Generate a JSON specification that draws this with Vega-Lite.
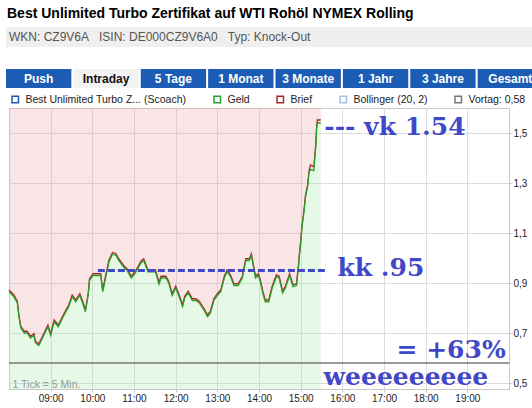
{
  "$schema": "https://vega.github.io/schema/vega-lite/v6.json",
  "padding": {"left": 5, "top": 0, "right": 0, "bottom": 0},
  "spacing": 0,
  "bounds": "flush",
  "config": {
    "view": {"stroke": null},
    "font": "Liberation Sans",
    "locale": {
      "number": {"decimal": ",", "thousands": ".", "grouping": [3], "currency": ["", " €"]}
    }
  },
  "vconcat": [
    {
      "width": 527,
      "height": 27,
      "data": {"values": [{"zeile": "Best Unlimited Turbo Zertifikat auf WTI Rohöl NYMEX Rolling"}]},
      "mark": {
        "type": "text", "align": "left", "baseline": "middle", "dx": 1,
        "font": "Liberation Sans", "fontSize": 14, "fontWeight": "bold", "color": "#000000"
      },
      "encoding": {
        "x": {
          "field": "zeile", "type": "nominal", "axis": null, "bandPosition": 0,
          "scale": {"type": "band", "paddingInner": 0, "paddingOuter": 0}
        },
        "text": {"field": "zeile"}
      }
    },
    {
      "width": 527,
      "height": 20,
      "view": {"stroke": null, "fill": "#efefef"},
      "data": {"values": [{"zeile": "WKN: CZ9V6A\u00a0\u00a0\u00a0ISIN: DE000CZ9V6A0\u00a0\u00a0\u00a0Typ: Knock-Out"}]},
      "mark": {
        "type": "text", "align": "left", "baseline": "middle", "dx": 3,
        "font": "Liberation Sans", "fontSize": 12, "color": "#555555"
      },
      "encoding": {
        "x": {
          "field": "zeile", "type": "nominal", "axis": null, "bandPosition": 0,
          "scale": {"type": "band", "paddingInner": 0, "paddingOuter": 0}
        },
        "text": {"field": "zeile"}
      }
    },
    {
      "width": 527,
      "height": 22,
      "data": {"values": [{"leer": ""}]},
      "mark": {"type": "text"},
      "encoding": {"text": {"field": "leer"}}
    },
    {
      "width": 527,
      "height": 19,
      "data": {"values": [
        {"tab": "Push", "aktiv": false},
        {"tab": "Intraday", "aktiv": true},
        {"tab": "5 Tage", "aktiv": false},
        {"tab": "1 Monat", "aktiv": false},
        {"tab": "3 Monate", "aktiv": false},
        {"tab": "1 Jahr", "aktiv": false},
        {"tab": "3 Jahre", "aktiv": false},
        {"tab": "Gesamt", "aktiv": false}
      ]},
      "layer": [
        {
          "mark": {"type": "bar", "clip": true},
          "encoding": {
            "x": {
              "field": "tab", "type": "nominal", "sort": null, "axis": null,
              "scale": {"range": [0, 537], "paddingInner": 0.03, "paddingOuter": 0}
            },
            "color": {"condition": {"test": "datum.aktiv", "value": "#f3f3f3"}, "value": "#1d5cb5"}
          }
        },
        {
          "mark": {"type": "text", "clip": true, "font": "Liberation Sans", "fontWeight": "bold", "fontSize": 12},
          "encoding": {
            "x": {"field": "tab", "type": "nominal", "sort": null},
            "text": {"field": "tab"},
            "color": {"condition": {"test": "datum.aktiv", "value": "#111111"}, "value": "#ffffff"}
          }
        }
      ]
    },
    {
      "width": 527,
      "height": 20,
      "data": {"values": [{"leer": ""}]},
      "mark": {"type": "text"},
      "encoding": {"text": {"field": "leer"}}
    },
    {
      "spacing": 0,
      "bounds": "flush",
      "hconcat": [
        {
          "width": 3,
          "height": 281,
          "data": {"values": [{"leer": ""}]},
          "mark": {"type": "text"},
          "encoding": {"text": {"field": "leer"}}
        },
        {
          "width": 500,
          "height": 281,
          "view": {"stroke": "#c8c8c8"},
          "data": {
            "values": [
              {"t": "2024-06-03T08:00", "Geld": 0.865, "Brief": 0.872},
              {"t": "2024-06-03T08:07", "Geld": 0.845, "Brief": 0.852},
              {"t": "2024-06-03T08:12", "Geld": 0.82, "Brief": 0.827},
              {"t": "2024-06-03T08:14", "Geld": 0.77, "Brief": 0.777},
              {"t": "2024-06-03T08:17", "Geld": 0.72, "Brief": 0.727},
              {"t": "2024-06-03T08:22", "Geld": 0.70, "Brief": 0.707},
              {"t": "2024-06-03T08:26", "Geld": 0.70, "Brief": 0.707},
              {"t": "2024-06-03T08:31", "Geld": 0.68, "Brief": 0.687},
              {"t": "2024-06-03T08:36", "Geld": 0.69, "Brief": 0.697},
              {"t": "2024-06-03T08:38", "Geld": 0.66, "Brief": 0.667},
              {"t": "2024-06-03T08:43", "Geld": 0.65, "Brief": 0.657},
              {"t": "2024-06-03T08:50", "Geld": 0.69, "Brief": 0.697},
              {"t": "2024-06-03T08:56", "Geld": 0.725, "Brief": 0.732},
              {"t": "2024-06-03T09:00", "Geld": 0.69, "Brief": 0.697},
              {"t": "2024-06-03T09:05", "Geld": 0.745, "Brief": 0.752},
              {"t": "2024-06-03T09:11", "Geld": 0.725, "Brief": 0.732},
              {"t": "2024-06-03T09:19", "Geld": 0.77, "Brief": 0.777},
              {"t": "2024-06-03T09:26", "Geld": 0.805, "Brief": 0.812},
              {"t": "2024-06-03T09:31", "Geld": 0.845, "Brief": 0.852},
              {"t": "2024-06-03T09:36", "Geld": 0.825, "Brief": 0.832},
              {"t": "2024-06-03T09:42", "Geld": 0.85, "Brief": 0.857},
              {"t": "2024-06-03T09:46", "Geld": 0.82, "Brief": 0.827},
              {"t": "2024-06-03T09:50", "Geld": 0.785, "Brief": 0.792},
              {"t": "2024-06-03T09:54", "Geld": 0.85, "Brief": 0.857},
              {"t": "2024-06-03T09:56", "Geld": 0.91, "Brief": 0.917},
              {"t": "2024-06-03T10:01", "Geld": 0.93, "Brief": 0.937},
              {"t": "2024-06-03T10:12", "Geld": 0.93, "Brief": 0.937},
              {"t": "2024-06-03T10:15", "Geld": 0.865, "Brief": 0.872},
              {"t": "2024-06-03T10:19", "Geld": 0.92, "Brief": 0.927},
              {"t": "2024-06-03T10:24", "Geld": 0.985, "Brief": 0.992},
              {"t": "2024-06-03T10:29", "Geld": 1.015, "Brief": 1.022},
              {"t": "2024-06-03T10:34", "Geld": 1.01, "Brief": 1.017},
              {"t": "2024-06-03T10:38", "Geld": 0.99, "Brief": 0.997},
              {"t": "2024-06-03T10:46", "Geld": 0.96, "Brief": 0.967},
              {"t": "2024-06-03T10:50", "Geld": 0.95, "Brief": 0.957},
              {"t": "2024-06-03T10:56", "Geld": 0.92, "Brief": 0.927},
              {"t": "2024-06-03T11:02", "Geld": 0.94, "Brief": 0.947},
              {"t": "2024-06-03T11:10", "Geld": 0.98, "Brief": 0.987},
              {"t": "2024-06-03T11:14", "Geld": 0.99, "Brief": 0.997},
              {"t": "2024-06-03T11:20", "Geld": 0.945, "Brief": 0.952},
              {"t": "2024-06-03T11:31", "Geld": 0.945, "Brief": 0.952},
              {"t": "2024-06-03T11:36", "Geld": 0.895, "Brief": 0.902},
              {"t": "2024-06-03T11:39", "Geld": 0.92, "Brief": 0.927},
              {"t": "2024-06-03T11:46", "Geld": 0.92, "Brief": 0.927},
              {"t": "2024-06-03T11:50", "Geld": 0.90, "Brief": 0.907},
              {"t": "2024-06-03T11:55", "Geld": 0.85, "Brief": 0.857},
              {"t": "2024-06-03T12:00", "Geld": 0.88, "Brief": 0.887},
              {"t": "2024-06-03T12:05", "Geld": 0.845, "Brief": 0.852},
              {"t": "2024-06-03T12:10", "Geld": 0.805, "Brief": 0.812},
              {"t": "2024-06-03T12:13", "Geld": 0.84, "Brief": 0.847},
              {"t": "2024-06-03T12:18", "Geld": 0.86, "Brief": 0.867},
              {"t": "2024-06-03T12:24", "Geld": 0.83, "Brief": 0.837},
              {"t": "2024-06-03T12:29", "Geld": 0.83, "Brief": 0.837},
              {"t": "2024-06-03T12:34", "Geld": 0.82, "Brief": 0.827},
              {"t": "2024-06-03T12:41", "Geld": 0.79, "Brief": 0.797},
              {"t": "2024-06-03T12:46", "Geld": 0.765, "Brief": 0.772},
              {"t": "2024-06-03T12:50", "Geld": 0.78, "Brief": 0.787},
              {"t": "2024-06-03T12:55", "Geld": 0.83, "Brief": 0.837},
              {"t": "2024-06-03T13:00", "Geld": 0.85, "Brief": 0.857},
              {"t": "2024-06-03T13:05", "Geld": 0.865, "Brief": 0.872},
              {"t": "2024-06-03T13:10", "Geld": 0.92, "Brief": 0.927},
              {"t": "2024-06-03T13:14", "Geld": 0.945, "Brief": 0.952},
              {"t": "2024-06-03T13:19", "Geld": 0.925, "Brief": 0.932},
              {"t": "2024-06-03T13:24", "Geld": 0.89, "Brief": 0.897},
              {"t": "2024-06-03T13:30", "Geld": 0.89, "Brief": 0.897},
              {"t": "2024-06-03T13:36", "Geld": 0.92, "Brief": 0.927},
              {"t": "2024-06-03T13:41", "Geld": 0.99, "Brief": 0.997},
              {"t": "2024-06-03T13:46", "Geld": 0.99, "Brief": 0.997},
              {"t": "2024-06-03T13:49", "Geld": 1.01, "Brief": 1.017},
              {"t": "2024-06-03T13:53", "Geld": 0.95, "Brief": 0.957},
              {"t": "2024-06-03T13:55", "Geld": 0.92, "Brief": 0.927},
              {"t": "2024-06-03T13:59", "Geld": 0.93, "Brief": 0.937},
              {"t": "2024-06-03T14:02", "Geld": 0.905, "Brief": 0.912},
              {"t": "2024-06-03T14:05", "Geld": 0.865, "Brief": 0.872},
              {"t": "2024-06-03T14:09", "Geld": 0.825, "Brief": 0.832},
              {"t": "2024-06-03T14:14", "Geld": 0.825, "Brief": 0.832},
              {"t": "2024-06-03T14:19", "Geld": 0.88, "Brief": 0.887},
              {"t": "2024-06-03T14:25", "Geld": 0.925, "Brief": 0.932},
              {"t": "2024-06-03T14:29", "Geld": 0.92, "Brief": 0.927},
              {"t": "2024-06-03T14:34", "Geld": 0.86, "Brief": 0.867},
              {"t": "2024-06-03T14:38", "Geld": 0.88, "Brief": 0.887},
              {"t": "2024-06-03T14:44", "Geld": 0.93, "Brief": 0.937},
              {"t": "2024-06-03T14:49", "Geld": 0.885, "Brief": 0.892},
              {"t": "2024-06-03T14:54", "Geld": 0.89, "Brief": 0.897},
              {"t": "2024-06-03T14:57", "Geld": 0.97, "Brief": 0.977},
              {"t": "2024-06-03T14:58", "Geld": 1.005, "Brief": 1.012},
              {"t": "2024-06-03T15:00", "Geld": 1.06, "Brief": 1.067},
              {"t": "2024-06-03T15:02", "Geld": 1.125, "Brief": 1.132},
              {"t": "2024-06-03T15:05", "Geld": 1.19, "Brief": 1.197},
              {"t": "2024-06-03T15:07", "Geld": 1.245, "Brief": 1.252},
              {"t": "2024-06-03T15:10", "Geld": 1.285, "Brief": 1.292},
              {"t": "2024-06-03T15:12", "Geld": 1.34, "Brief": 1.347},
              {"t": "2024-06-03T15:14", "Geld": 1.355, "Brief": 1.372},
              {"t": "2024-06-03T15:19", "Geld": 1.35, "Brief": 1.365},
              {"t": "2024-06-03T15:20", "Geld": 1.39, "Brief": 1.397},
              {"t": "2024-06-03T15:22", "Geld": 1.455, "Brief": 1.462},
              {"t": "2024-06-03T15:23", "Geld": 1.52, "Brief": 1.527},
              {"t": "2024-06-03T15:24", "Geld": 1.54, "Brief": 1.552},
              {"t": "2024-06-03T15:29", "Geld": 1.54, "Brief": 1.552}
            ]
          },
          "layer": [
            {
              "mark": {"type": "area", "color": "#ebaaaa", "opacity": 0.3},
              "encoding": {
                "x": {
                  "field": "t", "type": "temporal",
                  "scale": {
                    "domain": [
                      {"year": 2024, "month": 6, "date": 3, "hours": 8},
                      {"year": 2024, "month": 6, "date": 3, "hours": 20}
                    ],
                    "nice": false
                  },
                  "axis": {
                    "title": null,
                    "format": "%H:%M",
                    "values": [
                      {"year": 2024, "month": 6, "date": 3, "hours": 9},
                      {"year": 2024, "month": 6, "date": 3, "hours": 10},
                      {"year": 2024, "month": 6, "date": 3, "hours": 11},
                      {"year": 2024, "month": 6, "date": 3, "hours": 12},
                      {"year": 2024, "month": 6, "date": 3, "hours": 13},
                      {"year": 2024, "month": 6, "date": 3, "hours": 14},
                      {"year": 2024, "month": 6, "date": 3, "hours": 15},
                      {"year": 2024, "month": 6, "date": 3, "hours": 16},
                      {"year": 2024, "month": 6, "date": 3, "hours": 17},
                      {"year": 2024, "month": 6, "date": 3, "hours": 18},
                      {"year": 2024, "month": 6, "date": 3, "hours": 19}
                    ],
                    "gridColor": "#dcdcdc",
                    "domainColor": "#c8c8c8",
                    "tickColor": "#c8c8c8",
                    "tickSize": 3,
                    "labelPadding": 1,
                    "labelFontSize": 10,
                    "labelColor": "#222222",
                    "labelOverlap": false,
                    "labelFlush": false
                  }
                },
                "y": {
                  "field": "Geld", "type": "quantitative",
                  "scale": {"domain": [0.476, 1.6], "nice": false, "zero": false},
                  "axis": {
                    "title": null,
                    "orient": "right",
                    "values": [0.5, 0.6, 0.7, 0.8, 0.9, 1.0, 1.1, 1.2, 1.3, 1.4, 1.5],
                    "format": ".1f",
                    "gridColor": "#dcdcdc",
                    "domainColor": "#c8c8c8",
                    "tickColor": "#c8c8c8",
                    "tickSize": 3,
                    "labelPadding": 1,
                    "labelFontSize": 10,
                    "labelColor": "#222222",
                    "labelOverlap": false
                  }
                },
                "y2": {"datum": 1.6}
              }
            },
            {
              "mark": {"type": "area", "color": "#ace8ac", "opacity": 0.3},
              "encoding": {
                "x": {"field": "t", "type": "temporal"},
                "y": {"field": "Geld", "type": "quantitative"},
                "y2": {"datum": 0.476}
              }
            },
            {
              "data": {"values": [{"vortag": 0.58}]},
              "mark": {"type": "rule", "strokeWidth": 1.3},
              "encoding": {
                "y": {"field": "vortag", "type": "quantitative"},
                "color": {"datum": "Vortag: 0,58", "type": "nominal"}
              }
            },
            {
              "transform": [{"fold": ["Brief", "Geld"], "as": ["reihe", "kurs"]}],
              "mark": {"type": "line", "strokeWidth": 1.3},
              "encoding": {
                "x": {"field": "t", "type": "temporal"},
                "y": {"field": "kurs", "type": "quantitative"},
                "color": {
                  "field": "reihe", "type": "nominal",
                  "scale": {
                    "domain": ["Best Unlimited Turbo Z... (Scoach)", "Geld", "Brief", "Bollinger (20, 2)", "Vortag: 0,58"],
                    "range": ["#1f55b3", "#2a9f2a", "#ab2626", "#a8bfe6", "#777777"]
                  },
                  "legend": {
                    "title": null,
                    "orient": "none",
                    "legendX": 4,
                    "legendY": 94,
                    "direction": "horizontal",
                    "symbolType": "square",
                    "symbolSize": 42,
                    "symbolStrokeWidth": 1.5,
                    "labelFontSize": 10.5,
                    "labelColor": "#222222",
                    "labelLimit": 300,
                    "labelOffset": 5,
                    "columnPadding": 24,
                    "padding": 0
                  }
                }
              }
            },
            {
              "data": {"values": [
                {"t": "2024-06-03T10:08", "kk": 0.95},
                {"t": "2024-06-03T15:37", "kk": 0.95}
              ]},
              "mark": {"type": "line", "color": "#4048c8", "strokeWidth": 3, "strokeDash": [7, 3]},
              "encoding": {
                "x": {"field": "t", "type": "temporal"},
                "y": {"field": "kk", "type": "quantitative"}
              }
            },
            {
              "data": {"values": [
                {"t": "2024-06-03T15:34", "v": 1.524, "text": "--- vk 1.54"},
                {"t": "2024-06-03T15:53", "v": 0.961, "text": "kk .95"},
                {"t": "2024-06-03T17:18", "v": 0.632, "text": "= +63%"},
                {"t": "2024-06-03T15:33", "v": 0.524, "text": "weeeeeeeee"}
              ]},
              "mark": {
                "type": "text", "align": "left", "baseline": "middle",
                "font": "DejaVu Serif", "fontWeight": "bold", "fontSize": 25, "color": "#4048c8"
              },
              "encoding": {
                "x": {"field": "t", "type": "temporal"},
                "y": {"field": "v", "type": "quantitative"},
                "text": {"field": "text"}
              }
            },
            {
              "data": {"values": [{"t": "2024-06-03T08:05", "v": 0.494, "text": "1 Tick = 5 Min."}]},
              "mark": {
                "type": "text", "align": "left", "baseline": "middle",
                "fontSize": 10.5, "color": "#9a9a9a"
              },
              "encoding": {
                "x": {"field": "t", "type": "temporal"},
                "y": {"field": "v", "type": "quantitative"},
                "text": {"field": "text"}
              }
            }
          ]
        }
      ]
    }
  ]
}
